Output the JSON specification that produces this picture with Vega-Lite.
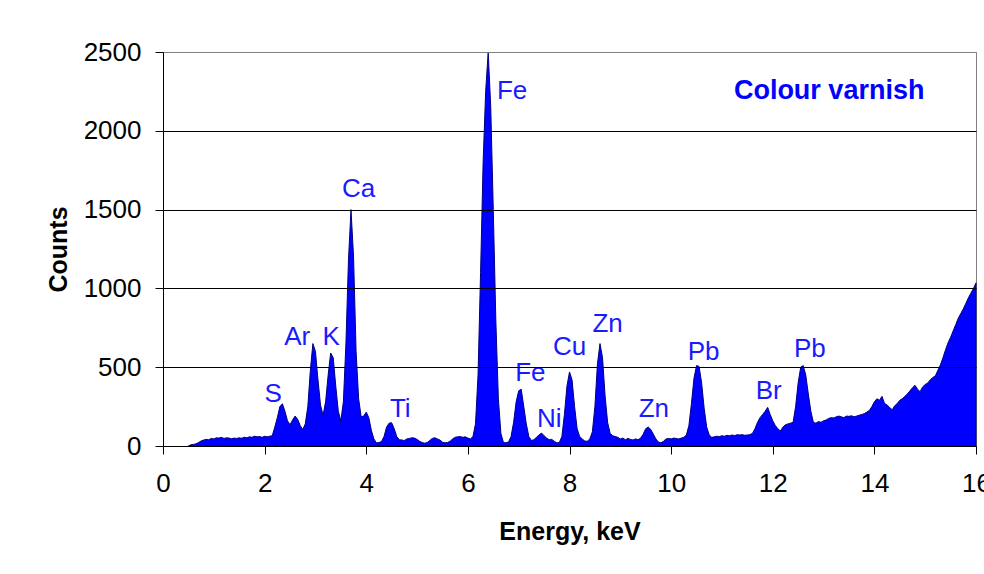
{
  "$schema": "https://vega.github.io/schema/vega-lite/v6.json",
  "width": 813,
  "height": 394,
  "autosize": {"type": "none"},
  "padding": {"left": 163, "top": 52, "right": 8, "bottom": 128},
  "background": "#ffffff",
  "config": {
    "font": "Liberation Sans",
    "view": {"stroke": "#808080", "strokeWidth": 1}
  },
  "datasets": {
    "spec": [
      {"e":0.50,"c":0},{"e":0.55,"c":8},{"e":0.60,"c":10},{"e":0.65,"c":14},{"e":0.70,"c":22},{"e":0.75,"c":32},{"e":0.80,"c":38},{"e":0.85,"c":42},{"e":0.90,"c":40},{"e":0.95,"c":48},
      {"e":1.00,"c":45},{"e":1.05,"c":52},{"e":1.10,"c":50},{"e":1.15,"c":55},{"e":1.20,"c":48},{"e":1.25,"c":52},{"e":1.30,"c":50},{"e":1.35,"c":46},{"e":1.40,"c":50},{"e":1.45,"c":48},
      {"e":1.50,"c":52},{"e":1.55,"c":49},{"e":1.60,"c":56},{"e":1.65,"c":52},{"e":1.70,"c":58},{"e":1.75,"c":55},{"e":1.80,"c":62},{"e":1.85,"c":58},{"e":1.90,"c":60},{"e":1.95,"c":55},
      {"e":2.00,"c":62},{"e":2.05,"c":58},{"e":2.10,"c":62},{"e":2.15,"c":65},{"e":2.20,"c":120},{"e":2.25,"c":180},{"e":2.30,"c":250},{"e":2.35,"c":268},{"e":2.40,"c":220},{"e":2.45,"c":160},
      {"e":2.50,"c":135},{"e":2.55,"c":165},{"e":2.60,"c":190},{"e":2.65,"c":170},{"e":2.70,"c":130},{"e":2.75,"c":105},{"e":2.80,"c":140},{"e":2.85,"c":250},{"e":2.90,"c":480},{"e":2.95,"c":650},
      {"e":3.00,"c":600},{"e":3.05,"c":420},{"e":3.10,"c":260},{"e":3.15,"c":195},{"e":3.20,"c":280},{"e":3.25,"c":450},{"e":3.30,"c":590},{"e":3.35,"c":560},{"e":3.40,"c":380},{"e":3.45,"c":220},
      {"e":3.50,"c":160},{"e":3.55,"c":280},{"e":3.60,"c":650},{"e":3.65,"c":1180},{"e":3.70,"c":1500},{"e":3.75,"c":1200},{"e":3.80,"c":600},{"e":3.85,"c":300},{"e":3.90,"c":185},{"e":3.95,"c":190},
      {"e":4.00,"c":215},{"e":4.05,"c":180},{"e":4.10,"c":100},{"e":4.15,"c":45},{"e":4.20,"c":20},{"e":4.25,"c":22},{"e":4.30,"c":28},{"e":4.35,"c":60},{"e":4.40,"c":120},{"e":4.45,"c":145},
      {"e":4.50,"c":148},{"e":4.55,"c":110},{"e":4.60,"c":60},{"e":4.65,"c":40},{"e":4.70,"c":38},{"e":4.75,"c":35},{"e":4.80,"c":45},{"e":4.85,"c":48},{"e":4.90,"c":52},{"e":4.95,"c":50},
      {"e":5.00,"c":42},{"e":5.05,"c":30},{"e":5.10,"c":22},{"e":5.15,"c":18},{"e":5.20,"c":22},{"e":5.25,"c":35},{"e":5.30,"c":48},{"e":5.35,"c":52},{"e":5.40,"c":45},{"e":5.45,"c":38},
      {"e":5.50,"c":24},{"e":5.55,"c":20},{"e":5.60,"c":22},{"e":5.65,"c":30},{"e":5.70,"c":45},{"e":5.75,"c":55},{"e":5.80,"c":58},{"e":5.85,"c":60},{"e":5.90,"c":55},{"e":5.95,"c":58},
      {"e":6.00,"c":50},{"e":6.05,"c":45},{"e":6.10,"c":60},{"e":6.15,"c":140},{"e":6.20,"c":450},{"e":6.25,"c":1100},{"e":6.30,"c":1800},{"e":6.35,"c":2250},{"e":6.40,"c":2500},{"e":6.45,"c":2150},
      {"e":6.50,"c":1500},{"e":6.55,"c":800},{"e":6.60,"c":300},{"e":6.65,"c":80},{"e":6.70,"c":22},{"e":6.75,"c":20},{"e":6.80,"c":25},{"e":6.85,"c":60},{"e":6.90,"c":150},{"e":6.95,"c":280},
      {"e":7.00,"c":350},{"e":7.05,"c":360},{"e":7.10,"c":250},{"e":7.15,"c":140},{"e":7.20,"c":60},{"e":7.25,"c":35},{"e":7.30,"c":40},{"e":7.35,"c":55},{"e":7.40,"c":70},{"e":7.45,"c":82},
      {"e":7.50,"c":65},{"e":7.55,"c":50},{"e":7.60,"c":40},{"e":7.65,"c":42},{"e":7.70,"c":30},{"e":7.75,"c":20},{"e":7.80,"c":22},{"e":7.85,"c":60},{"e":7.90,"c":200},{"e":7.95,"c":380},
      {"e":8.00,"c":470},{"e":8.05,"c":420},{"e":8.10,"c":250},{"e":8.15,"c":110},{"e":8.20,"c":60},{"e":8.25,"c":45},{"e":8.30,"c":32},{"e":8.35,"c":30},{"e":8.40,"c":45},{"e":8.45,"c":90},
      {"e":8.50,"c":250},{"e":8.55,"c":520},{"e":8.60,"c":650},{"e":8.65,"c":560},{"e":8.70,"c":320},{"e":8.75,"c":150},{"e":8.80,"c":80},{"e":8.85,"c":65},{"e":8.90,"c":60},{"e":8.95,"c":55},
      {"e":9.00,"c":45},{"e":9.05,"c":50},{"e":9.10,"c":40},{"e":9.15,"c":48},{"e":9.20,"c":42},{"e":9.25,"c":38},{"e":9.30,"c":45},{"e":9.35,"c":40},{"e":9.40,"c":50},{"e":9.45,"c":75},
      {"e":9.50,"c":110},{"e":9.55,"c":120},{"e":9.60,"c":105},{"e":9.65,"c":75},{"e":9.70,"c":45},{"e":9.75,"c":25},{"e":9.80,"c":20},{"e":9.85,"c":30},{"e":9.90,"c":45},{"e":9.95,"c":48},
      {"e":10.00,"c":45},{"e":10.05,"c":50},{"e":10.10,"c":48},{"e":10.15,"c":45},{"e":10.20,"c":50},{"e":10.25,"c":55},{"e":10.30,"c":70},{"e":10.35,"c":130},{"e":10.40,"c":270},{"e":10.45,"c":430},
      {"e":10.50,"c":510},{"e":10.55,"c":505},{"e":10.60,"c":400},{"e":10.65,"c":240},{"e":10.70,"c":120},{"e":10.75,"c":70},{"e":10.80,"c":55},{"e":10.85,"c":58},{"e":10.90,"c":62},{"e":10.95,"c":60},
      {"e":11.00,"c":65},{"e":11.05,"c":62},{"e":11.10,"c":68},{"e":11.15,"c":65},{"e":11.20,"c":70},{"e":11.25,"c":66},{"e":11.30,"c":72},{"e":11.35,"c":70},{"e":11.40,"c":72},{"e":11.45,"c":68},
      {"e":11.50,"c":70},{"e":11.55,"c":72},{"e":11.60,"c":80},{"e":11.65,"c":110},{"e":11.70,"c":150},{"e":11.75,"c":180},{"e":11.80,"c":200},{"e":11.85,"c":220},{"e":11.90,"c":245},{"e":11.95,"c":200},
      {"e":12.00,"c":160},{"e":12.05,"c":130},{"e":12.10,"c":110},{"e":12.15,"c":95},{"e":12.20,"c":120},{"e":12.25,"c":135},{"e":12.30,"c":140},{"e":12.35,"c":145},{"e":12.40,"c":150},{"e":12.45,"c":250},
      {"e":12.50,"c":400},{"e":12.55,"c":500},{"e":12.60,"c":510},{"e":12.65,"c":450},{"e":12.70,"c":330},{"e":12.75,"c":220},{"e":12.80,"c":150},{"e":12.85,"c":145},{"e":12.90,"c":155},{"e":12.95,"c":150},
      {"e":13.00,"c":160},{"e":13.05,"c":165},{"e":13.10,"c":175},{"e":13.15,"c":180},{"e":13.20,"c":178},{"e":13.25,"c":185},{"e":13.30,"c":190},{"e":13.35,"c":185},{"e":13.40,"c":180},{"e":13.45,"c":190},
      {"e":13.50,"c":188},{"e":13.55,"c":192},{"e":13.60,"c":185},{"e":13.65,"c":190},{"e":13.70,"c":195},{"e":13.75,"c":200},{"e":13.80,"c":205},{"e":13.85,"c":215},{"e":13.90,"c":225},{"e":13.95,"c":250},
      {"e":14.00,"c":280},{"e":14.05,"c":300},{"e":14.10,"c":290},{"e":14.15,"c":315},{"e":14.20,"c":270},{"e":14.25,"c":260},{"e":14.30,"c":245},{"e":14.35,"c":230},{"e":14.40,"c":255},{"e":14.45,"c":270},
      {"e":14.50,"c":290},{"e":14.55,"c":300},{"e":14.60,"c":315},{"e":14.65,"c":330},{"e":14.70,"c":350},{"e":14.75,"c":370},{"e":14.80,"c":385},{"e":14.85,"c":360},{"e":14.90,"c":345},{"e":14.95,"c":375},
      {"e":15.00,"c":390},{"e":15.05,"c":400},{"e":15.10,"c":420},{"e":15.15,"c":435},{"e":15.20,"c":445},{"e":15.25,"c":480},{"e":15.30,"c":515},{"e":15.35,"c":560},{"e":15.40,"c":610},{"e":15.45,"c":655},
      {"e":15.50,"c":690},{"e":15.55,"c":730},{"e":15.60,"c":770},{"e":15.65,"c":810},{"e":15.70,"c":840},{"e":15.75,"c":870},{"e":15.80,"c":905},{"e":15.85,"c":940},{"e":15.90,"c":970},{"e":15.95,"c":1000},
      {"e":16.00,"c":1035}
    ],
    "labels": [
      {"e":2.17,"c":281,"t":"S"},
      {"e":2.64,"c":641,"t":"Ar"},
      {"e":3.31,"c":641,"t":"K"},
      {"e":3.85,"c":1582,"t":"Ca"},
      {"e":4.67,"c":186,"t":"Ti"},
      {"e":6.87,"c":2200,"t":"Fe"},
      {"e":7.23,"c":414,"t":"Fe"},
      {"e":7.60,"c":119,"t":"Ni"},
      {"e":8.00,"c":577,"t":"Cu"},
      {"e":8.75,"c":725,"t":"Zn"},
      {"e":9.66,"c":186,"t":"Zn"},
      {"e":10.64,"c":546,"t":"Pb"},
      {"e":11.92,"c":296,"t":"Br"},
      {"e":12.73,"c":563,"t":"Pb"}
    ],
    "heading": [
      {"e":13.11,"c":2200,"t":"Colour varnish"}
    ]
  },
  "layer": [
    {
      "data": {"name": "spec"},
      "mark": {"type": "area", "fill": "#0000ff", "stroke": "#000080", "strokeWidth": 1, "interpolate": "linear"},
      "encoding": {
        "x": {
          "field": "e", "type": "quantitative",
          "scale": {"domain": [0, 16], "nice": false, "zero": false},
          "axis": {
            "values": [0, 2, 4, 6, 8, 10, 12, 14, 16],
            "format": "d",
            "title": "Energy, keV",
            "grid": false,
            "domainColor": "#000000", "domainWidth": 1,
            "tickColor": "#000000", "tickSize": 8, "tickWidth": 1,
            "labelFontSize": 26, "labelColor": "#000000", "labelPadding": 16, "labelFlush": false,
            "labelFont": "Liberation Sans",
            "titleFont": "Liberation Sans", "titleFontSize": 25, "titleFontWeight": "bold", "titleColor": "#000000",
            "titlePadding": 23
          }
        },
        "y": {
          "field": "c", "type": "quantitative",
          "scale": {"domain": [0, 2500], "nice": false},
          "axis": {
            "values": [0, 500, 1000, 1500, 2000, 2500],
            "format": "d",
            "title": "Counts",
            "grid": true,
            "gridColor": {"condition": {"test": "datum.value >= 2500", "value": "#808080"}, "value": "#000000"},
            "gridOpacity": 1, "gridWidth": 1,
            "zindex": 1,
            "domainColor": "#000000", "domainWidth": 1,
            "tickColor": "#000000", "tickSize": 8, "tickWidth": 1,
            "labelFontSize": 26, "labelColor": "#000000", "labelPadding": 14,
            "labelFont": "Liberation Sans",
            "titleFont": "Liberation Sans", "titleFontSize": 25, "titleFontWeight": "bold", "titleColor": "#000000",
            "titlePadding": 12
          }
        }
      }
    },
    {
      "data": {"name": "labels"},
      "mark": {"type": "text", "font": "Liberation Sans", "fontSize": 26, "color": "#1a1aff", "align": "center", "baseline": "alphabetic"},
      "encoding": {
        "x": {"field": "e", "type": "quantitative"},
        "y": {"field": "c", "type": "quantitative"},
        "text": {"field": "t", "type": "nominal"}
      }
    },
    {
      "data": {"name": "heading"},
      "mark": {"type": "text", "font": "Liberation Sans", "fontSize": 27, "fontWeight": "bold", "color": "#0000ff", "align": "center", "baseline": "alphabetic"},
      "encoding": {
        "x": {"field": "e", "type": "quantitative"},
        "y": {"field": "c", "type": "quantitative"},
        "text": {"field": "t", "type": "nominal"}
      }
    }
  ]
}
